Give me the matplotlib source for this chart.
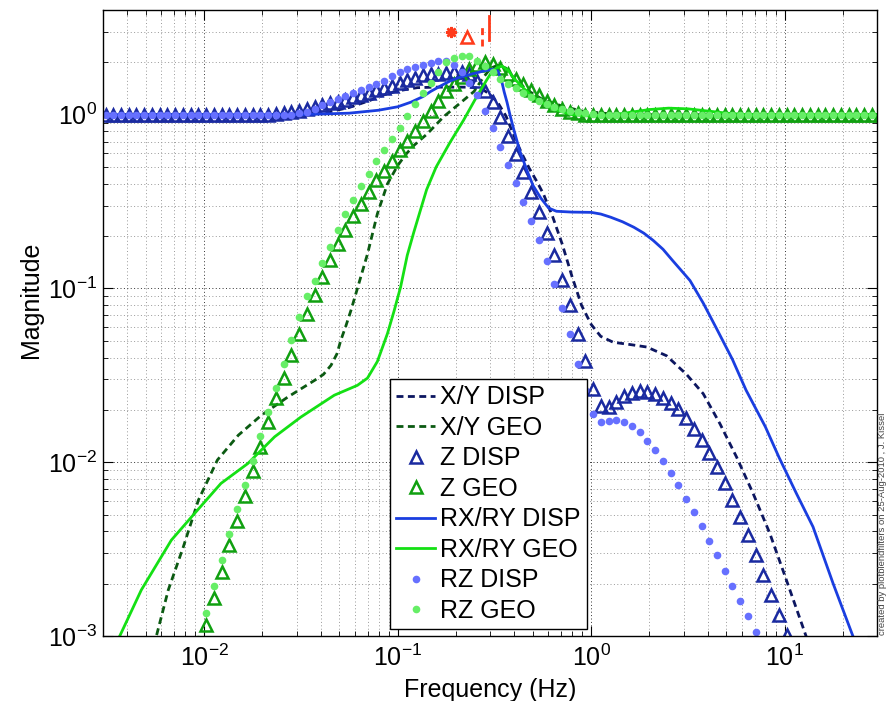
import numpy as np
import matplotlib
matplotlib.use('Agg')
import matplotlib.pyplot as plt
from matplotlib.ticker import LogLocator, NullFormatter

plt.rcParams['font.family'] = ['Liberation Sans', 'DejaVu Sans']
plt.rcParams['mathtext.fontset'] = 'custom'
plt.rcParams['mathtext.rm'] = 'Liberation Sans'
plt.rcParams['mathtext.it'] = 'Liberation Sans:italic'
plt.rcParams['mathtext.bf'] = 'Liberation Sans:bold'

# frequency grid of the marker series (25 points per decade)
freq = np.logspace(-2.51, 1.49, 101)

# marker series, one value per grid point
z_disp = [1.0] * 22 + [
    1.01, 1.02, 1.03, 1.05, 1.08, 1.11, 1.13, 1.16, 1.19, 1.22, 1.26, 1.30, 1.34, 1.38,
    1.42, 1.46, 1.52, 1.58, 1.63, 1.68, 1.71, 1.72, 1.73, 1.75, 1.77, 1.71, 1.57, 1.37,
    1.18, 0.97, 0.757, 0.594, 0.466, 0.358, 0.275, 0.208, 0.155, 0.112, 0.080, 0.055,
    0.038, 0.0265, 0.0211, 0.0208, 0.0222, 0.0239, 0.0250, 0.0256, 0.0254, 0.0246,
    0.0235, 0.0220, 0.0202, 0.0180, 0.0156, 0.0135, 0.0113, 0.0094, 0.0076, 0.0061,
    0.00485, 0.0038, 0.00292, 0.00224, 0.00172, 0.00132, 0.00101, 0.00077, 0.00059,
    0.00045, 0.00034, 0.00026, 0.0002, 0.00015, 0.00012, 0.00009, 0.00007, 0.000053,
    0.00004]

z_geo = [
    0.000012, 0.000017, 0.000024, 0.000034, 0.000048, 0.000068, 0.000096, 0.000136,
    0.00019, 0.00027, 0.00039, 0.00056, 0.00081, 0.00116, 0.00165, 0.00234, 0.00333,
    0.00462, 0.0064, 0.0089, 0.0123, 0.0170, 0.0235, 0.0307, 0.0412, 0.0544, 0.071,
    0.0912, 0.116, 0.145, 0.179, 0.216, 0.26, 0.307, 0.358, 0.418, 0.477, 0.544, 0.628,
    0.709, 0.809, 0.924, 1.05, 1.20, 1.37, 1.51, 1.65, 1.83, 1.94, 2.0, 1.96, 1.86,
    1.71, 1.60, 1.50, 1.39, 1.29, 1.20, 1.14, 1.08, 1.04, 1.02] + [1.0] * 39

rz_disp = [1.0] * 25 + [
    1.02, 1.04, 1.08, 1.13, 1.18, 1.23, 1.28, 1.33, 1.39, 1.45, 1.51, 1.57, 1.66, 1.75,
    1.82, 1.87, 1.93, 1.98, 2.03, 2.03, 1.93, 1.77, 1.53, 1.29, 1.05, 0.834, 0.655,
    0.516, 0.403, 0.316, 0.246, 0.189, 0.143, 0.106, 0.077, 0.0544, 0.0369, 0.026,
    0.0189, 0.0171, 0.0172, 0.0174, 0.0171, 0.0161, 0.0149, 0.0133, 0.0117, 0.0102,
    0.0087, 0.00738, 0.00618, 0.00518, 0.00429, 0.00353, 0.00291, 0.00237, 0.00194,
    0.0016, 0.0013, 0.00105, 0.00085, 0.00069, 0.00056, 0.00045, 0.00036, 0.00029,
    0.00024, 0.00019, 0.00015, 0.00012, 0.0001, 0.00008, 0.000065, 0.00005, 0.00004,
    0.000033]

rz_geo = [
    0.000015, 0.000021, 0.00003, 0.000042, 0.00006, 0.000085, 0.00012, 0.00017,
    0.00024, 0.00034, 0.00048, 0.00068, 0.00096, 0.00136, 0.00194, 0.00273, 0.00386,
    0.0054, 0.0074, 0.0102, 0.0141, 0.0195, 0.0269, 0.0366, 0.0503, 0.0684, 0.090,
    0.110, 0.14, 0.174, 0.217, 0.267, 0.323, 0.388, 0.458, 0.539, 0.624, 0.725, 0.842,
    0.987, 1.15, 1.34, 1.53, 1.75, 2.0, 2.12, 2.18, 2.18, 2.04, 1.9, 1.75, 1.6, 1.5,
    1.42, 1.34, 1.26, 1.2, 1.15, 1.11, 1.08, 1.05, 1.03, 1.02, 1.01] + [1.0] * 37

# line series (frequency in Hz, magnitude)
xy_disp_f = [0.00282, 0.0251, 0.0355, 0.0447, 0.0562, 0.0708, 0.0851, 0.1, 0.126,
             0.158, 0.2, 0.234, 0.251, 0.274, 0.302, 0.331, 0.363, 0.398, 0.437, 0.479,
             0.525, 0.566, 0.631, 0.708, 0.794, 0.891, 1.0, 1.12, 1.30, 1.60, 1.94,
             2.45, 3.11, 3.79, 4.62, 5.64, 6.87, 8.37, 10.2, 12.4, 16.0, 30.2]
xy_disp_m = [1.0, 1.0, 1.01, 1.04, 1.1, 1.2, 1.3, 1.37, 1.43, 1.44, 1.44, 1.44, 1.43,
             1.4, 1.3, 1.16, 0.98, 0.76, 0.6, 0.49, 0.41, 0.35, 0.26, 0.18, 0.118,
             0.08, 0.062, 0.053, 0.049, 0.0475, 0.046, 0.041, 0.032, 0.0248, 0.0167,
             0.0107, 0.0066, 0.0039, 0.0021, 0.00113, 0.0005, 0.00005]

xy_geo_f = [0.00447, 0.00566, 0.00652, 0.0078, 0.00933, 0.0117, 0.015, 0.0197, 0.027,
            0.0372, 0.0413, 0.0452, 0.0485, 0.0508, 0.054, 0.0573, 0.0619, 0.0698,
            0.0785, 0.0885, 0.1, 0.11, 0.121, 0.142, 0.173, 0.211, 0.248, 0.275, 0.302,
            0.331, 0.363, 0.398, 0.468, 0.562, 0.708, 0.891, 1.26, 2.0, 30.2]
xy_geo_m = [0.0005, 0.001, 0.00184, 0.00326, 0.00605, 0.0103, 0.0143, 0.0186, 0.0237,
            0.0296, 0.032, 0.0361, 0.042, 0.0503, 0.061, 0.0747, 0.10, 0.158, 0.269,
            0.40, 0.51, 0.59, 0.664, 0.775, 0.975, 1.17, 1.36, 1.62, 1.85, 1.93, 1.85,
            1.62, 1.38, 1.22, 1.12, 1.05, 1.01, 1.0, 1.0]

rxry_disp_f = [0.00282, 0.0316, 0.0562, 0.0794, 0.1, 0.117, 0.135, 0.148, 0.166, 0.186,
               0.209, 0.240, 0.282, 0.316, 0.33, 0.345, 0.355, 0.367, 0.38, 0.398,
               0.427, 0.468, 0.501, 0.550, 0.603, 0.661, 0.794, 1.0, 1.12, 1.26, 1.45,
               1.66, 1.87, 2.09, 2.35, 2.63, 2.9, 3.24, 3.80, 4.47, 5.37, 6.31, 7.94,
               9.33, 11.5, 14.0, 17.8, 22.5, 30.2]
rxry_disp_m = [1.0, 1.0, 1.02, 1.06, 1.11, 1.18, 1.27, 1.36, 1.46, 1.56, 1.64, 1.71,
               1.79, 1.83, 1.78, 1.55, 1.35, 1.18, 1.0, 0.82, 0.62, 0.47, 0.39, 0.33,
               0.29, 0.278, 0.275, 0.274, 0.268, 0.257, 0.242, 0.225, 0.208, 0.189,
               0.168, 0.145, 0.128, 0.111, 0.082, 0.058, 0.039, 0.026, 0.016, 0.0107,
               0.0066, 0.00425, 0.0020, 0.001, 0.0004]

rxry_geo_f = [0.0028, 0.00366, 0.00473, 0.00676, 0.00891, 0.0122, 0.0168, 0.0231,
              0.0316, 0.047, 0.0619, 0.0698, 0.0785, 0.0885, 0.0957, 0.1035, 0.112,
              0.121, 0.132, 0.141, 0.158, 0.186, 0.219, 0.257, 0.288, 0.302, 0.324,
              0.347, 0.372, 0.398, 0.447, 0.501, 0.631, 0.794, 1.0, 1.26, 1.58, 2.0,
              2.51, 3.16, 3.98, 5.01, 6.31, 30.2]
rxry_geo_m = [0.00062, 0.001, 0.00184, 0.00356, 0.00507, 0.00755, 0.00983, 0.0140,
              0.0182, 0.0243, 0.0277, 0.0305, 0.038, 0.055, 0.074, 0.102, 0.155, 0.21,
              0.29, 0.37, 0.5, 0.69, 0.93, 1.28, 1.58, 1.72, 1.86, 1.9, 1.8, 1.62, 1.42,
              1.26, 1.08, 1.0, 0.98, 0.99, 1.03, 1.07, 1.09, 1.08, 1.05, 1.02, 1.0, 1.0]

# blend frequency markers along the top
rz_blend = (0.1875, 3.0)
z_blend = (0.227, 2.78)
xy_blend_f = [0.274, 0.274]
xy_blend_m = [2.49, 3.33]
rxry_blend_f = [0.298, 0.298]
rxry_blend_m = [2.7, 3.7]

fig = plt.figure(figsize=(8.86, 7.01), dpi=100)
ax = fig.add_axes([0.1163, 0.0927, 0.8736, 0.893])

dash = (0, (2.5, 1.6))
ax.plot(xy_disp_f, xy_disp_m, color='#0c1660', ls=dash, lw=2, label='X/Y DISP')
ax.plot(xy_geo_f, xy_geo_m, color='#0b5a12', ls=dash, lw=2, label='X/Y GEO')
ax.plot(freq, z_disp, ls='none', marker='^', ms=8, mfc='none', mec='#1a2aa0', mew=1.8,
        label='Z DISP')
ax.plot(freq, z_geo, ls='none', marker='^', ms=8, mfc='none', mec='#10a010', mew=1.8,
        label='Z GEO')
ax.plot(rxry_disp_f, rxry_disp_m, color='#1a3ee0', lw=2, label='RX/RY DISP')
ax.plot(rxry_geo_f, rxry_geo_m, color='#14e014', lw=2, label='RX/RY GEO')
ax.plot(freq, rz_disp, ls='none', marker='o', ms=5.5, mfc='#6670ff', mec='none',
        label='RZ DISP')
ax.plot(freq, rz_geo, ls='none', marker='o', ms=5.5, mfc='#66ee66', mec='none',
        label='RZ GEO')

red = '#ff3a1a'
ax.plot(*rz_blend, ls='none', marker=(8, 2, 0), ms=8, mec=red, mew=1.8)
ax.plot(*z_blend, ls='none', marker='^', ms=8, mfc='none', mec=red, mew=1.8)
ax.plot(xy_blend_f, xy_blend_m, color=red, ls=dash, lw=2)
ax.plot(rxry_blend_f, rxry_blend_m, color=red, lw=2)

ax.set_xscale('log')
ax.set_yscale('log')
ax.set_xlim(0.003, 30)
ax.set_ylim(1e-3, 4)

for axis in (ax.xaxis, ax.yaxis):
    axis.set_major_locator(LogLocator(base=10, numticks=20))
    axis.set_minor_locator(LogLocator(base=10, subs=np.arange(2, 10), numticks=100))
    axis.set_minor_formatter(NullFormatter())

dots = (0, (1, 2.5))
ax.grid(True, which='major', ls=dots, color='0.2', lw=0.7)
ax.grid(True, which='minor', ls=dots, color='0.6', lw=0.7)
ax.set_axisbelow(True)

ax.tick_params(which='both', direction='in', top=True, right=True, labelsize=18)
ax.tick_params(which='major', length=7, width=0.8)
ax.tick_params(which='minor', length=3.5, width=0.6)
ax.tick_params(axis='x', pad=6)
ax.tick_params(axis='y', pad=4)
for s in ax.spines.values():
    s.set_linewidth(1.0)

ax.set_xlabel('Frequency (Hz)', fontsize=18)
ax.set_ylabel('Magnitude', fontsize=18)
ax.xaxis.set_label_coords(0.5, -0.067)
ax.yaxis.set_label_coords(-0.0775, 0.537)

leg = ax.legend(loc='lower left', bbox_to_anchor=(0.3706, 0.0112), borderaxespad=0,
                fontsize=18, fancybox=False, edgecolor='black', framealpha=1,
                handlelength=1.55, handletextpad=0.2, labelspacing=0.26,
                borderpad=0.25, numpoints=1)
leg.get_frame().set_linewidth(1.0)

fig.text(0.9955, 0.094, 'created by plotblendfilters on 25-Aug-2010 , J. Kissel',
         rotation=90, fontsize=6.8, color='#444444', ha='center', va='bottom')

fig.savefig('out.png', dpi=100)
